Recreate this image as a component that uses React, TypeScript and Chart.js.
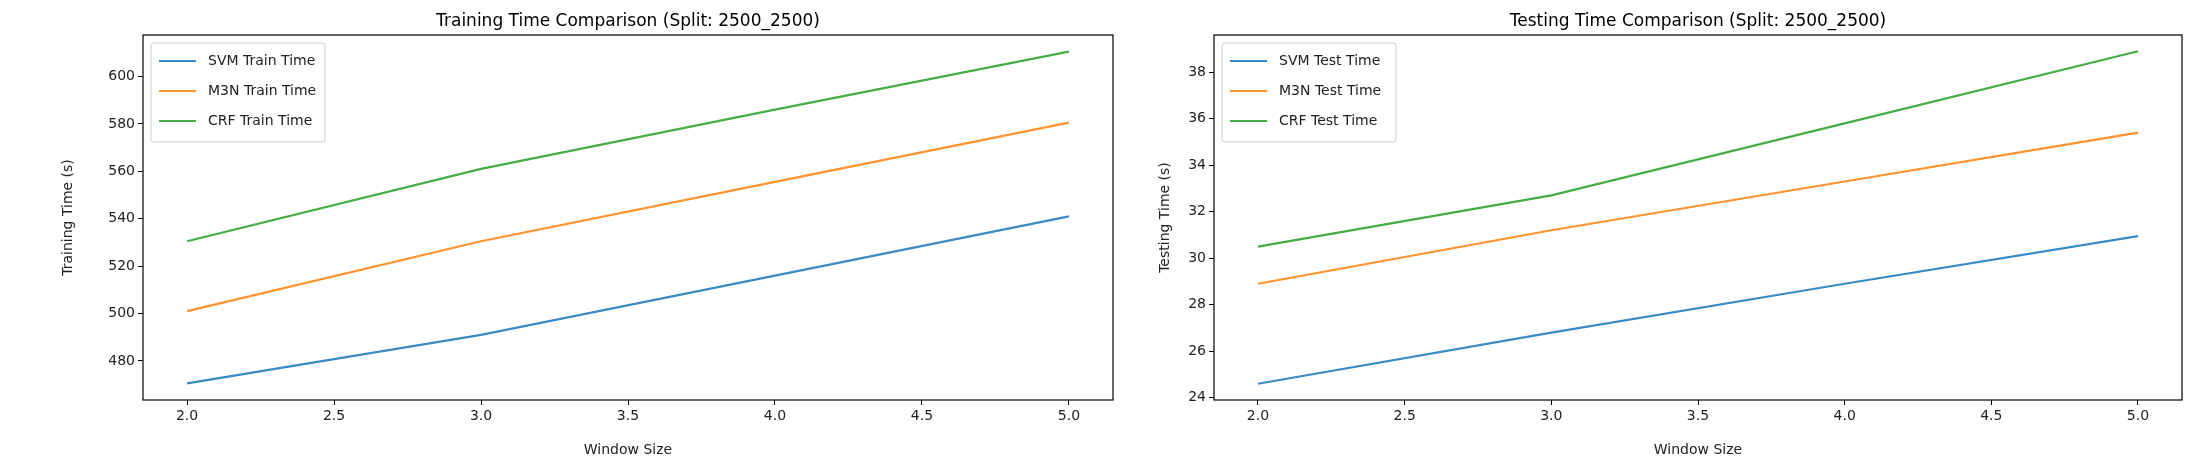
import React, { useEffect, useRef } from "react";
import { Chart, registerables } from "chart.js";
Chart.register(...registerables);

const windowSizes = [2, 3, 4, 5];
const svmTrain = [470.5, 491, 516, 541];
const m3nTrain = [501, 530.5, 555.5, 580.5];
const crfTrain = [530.5, 561, 586, 610.5];
const svmTest = [24.6, 26.8, 28.9, 30.95];
const m3nTest = [28.9, 31.2, 33.3, 35.4];
const crfTest = [30.5, 32.7, 35.8, 38.9];
const colors = ["#3a8ac6", "#ff922e", "#45ad45"];
const FONT = "'DejaVu Sans', sans-serif";

type Cfg = {
  title: string; ylabel: string; names: string[]; series: number[][];
  ymin: number; ymax: number; step: number; left: number; width: number; areaLeft: number; areaRight: number; ylabelX: number;
};

function Panel({ cfg }: { cfg: Cfg }) {
  const ref = useRef<HTMLCanvasElement>(null);
  useEffect(() => {
    const top = 35, bottom = 400, H = 465;
    const deco = {
      id: "deco",
      afterDraw(chart: any) {
        const { ctx, chartArea: a } = chart;
        ctx.save();
        ctx.strokeStyle = "#000"; ctx.lineWidth = 1.2;
        ctx.strokeRect(a.left, a.top, a.right - a.left, a.bottom - a.top);
        ctx.fillStyle = "#000"; ctx.font = `17px ${FONT}`; ctx.textAlign = "center"; ctx.textBaseline = "alphabetic";
        ctx.fillText(cfg.title, (a.left + a.right) / 2, 26);
        ctx.fillStyle = "#222"; ctx.font = `14px ${FONT}`; ctx.textBaseline = "middle";
        ctx.fillText("Window Size", (a.left + a.right) / 2, 450);
        ctx.save();
        ctx.translate(cfg.ylabelX, (a.top + a.bottom) / 2);
        ctx.rotate(-Math.PI / 2);
        ctx.fillText(cfg.ylabel, 0, 0);
        ctx.restore();
        // legend
        const lx = a.left + 8, ly = a.top + 8, lw = 174, lh = 99;
        ctx.fillStyle = "rgba(255,255,255,0.8)"; ctx.strokeStyle = "#ccc"; ctx.lineWidth = 1;
        ctx.beginPath(); (ctx as any).roundRect(lx, ly, lw, lh, 3); ctx.fill(); ctx.stroke();
        ctx.font = `14px ${FONT}`; ctx.textAlign = "left"; ctx.textBaseline = "middle";
        cfg.names.forEach((n, i) => {
          const y = ly + 18 + i * 30;
          ctx.strokeStyle = colors[i]; ctx.lineWidth = 2.2;
          ctx.beginPath(); ctx.moveTo(lx + 8, y); ctx.lineTo(lx + 45, y); ctx.stroke();
          ctx.fillStyle = "#222"; ctx.fillText(n, lx + 57, y);
        });
        ctx.restore();
      },
    };
    const chart = new Chart(ref.current!, {
      type: "line",
      data: {
        datasets: cfg.series.map((s, i) => ({
          label: cfg.names[i],
          data: windowSizes.map((x, j) => ({ x, y: s[j] })),
          borderColor: colors[i], borderWidth: 2.2, pointRadius: 0, tension: 0,
        })),
      },
      options: {
        animation: false, responsive: false, devicePixelRatio: 1,
        layout: { padding: { top, right: cfg.width - cfg.areaRight, left: 0, bottom: 0 } },
        plugins: { legend: { display: false }, tooltip: { enabled: false } },
        scales: {
          x: {
            type: "linear", min: 1.85, max: 5.15,
            afterBuildTicks: (s: any) => { s.ticks = [2, 2.5, 3, 3.5, 4, 4.5, 5].map((v) => ({ value: v })); },
            afterFit: (s: any) => { s.height = H - bottom; },
            grid: { drawOnChartArea: false, tickLength: 5, color: "#000" },
            border: { display: false },
            ticks: { color: "#222", font: { family: FONT, size: 14 }, padding: 3, callback: (v: any) => Number(v).toFixed(1) },
          },
          y: {
            min: cfg.ymin, max: cfg.ymax,
            afterBuildTicks: (s: any) => {
              const t = [];
              for (let v = Math.ceil(cfg.ymin / cfg.step) * cfg.step; v <= cfg.ymax; v += cfg.step) t.push({ value: v });
              s.ticks = t;
            },
            afterFit: (s: any) => { s.width = cfg.areaLeft; },
            grid: { drawOnChartArea: false, tickLength: 5, color: "#000" },
            border: { display: false },
            ticks: { color: "#222", font: { family: FONT, size: 14 }, padding: 3, callback: (v: any) => String(Math.round(v)) },
          },
        },
      },
      plugins: [deco],
    });
    return () => chart.destroy();
  }, []);
  return (
    <canvas ref={ref} width={cfg.width} height={465}
      style={{ position: "absolute", left: cfg.left, top: 0, width: cfg.width, height: 465 }} />
  );
}

export default function App() {
  const left: Cfg = {
    title: "Training Time Comparison (Split: 2500_2500)", ylabel: "Training Time (s)",
    names: ["SVM Train Time", "M3N Train Time", "CRF Train Time"], series: [svmTrain, m3nTrain, crfTrain],
    ymin: 463.5, ymax: 617.5, step: 20, left: 0, width: 1150, areaLeft: 143, areaRight: 1113, ylabelX: 68,
  };
  const right: Cfg = {
    title: "Testing Time Comparison (Split: 2500_2500)", ylabel: "Testing Time (s)",
    names: ["SVM Test Time", "M3N Test Time", "CRF Test Time"], series: [svmTest, m3nTest, crfTest],
    ymin: 23.9, ymax: 39.6, step: 2, left: 1150, width: 1057, areaLeft: 64, areaRight: 1032, ylabelX: 15,
  };
  return (
    <div style={{ position: "fixed", left: 0, top: 0, width: 2207, height: 465, background: "#fff" }}>
      <Panel cfg={left} />
      <Panel cfg={right} />
    </div>
  );
}
